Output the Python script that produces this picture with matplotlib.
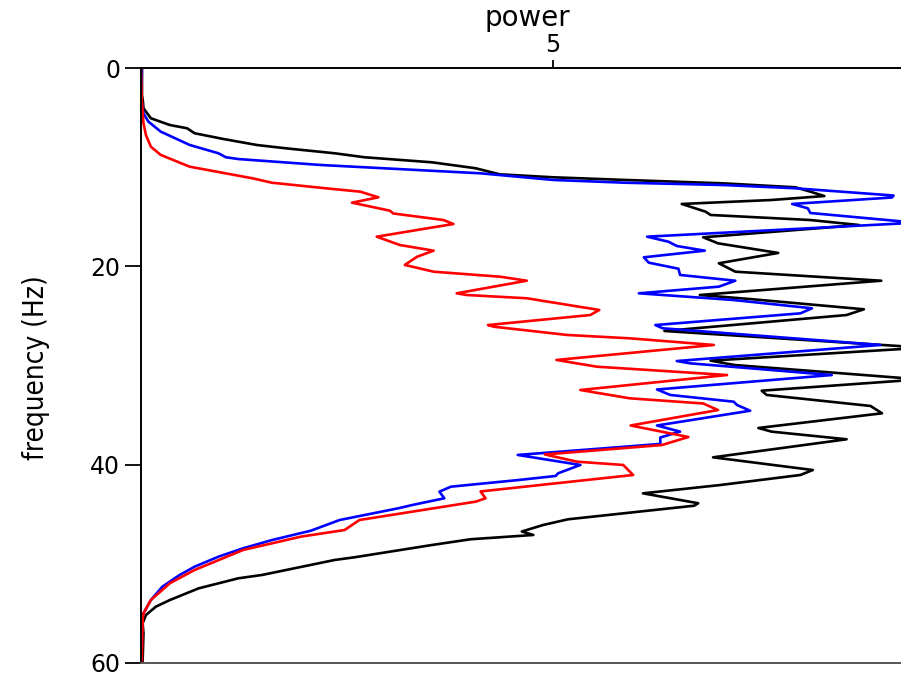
import matplotlib
matplotlib.use("Agg")
import matplotlib.pyplot as plt

# ---- data (frequency in Hz, power) ----
black_freq = [0, 2.72, 3.43, 4.06, 5.07, 5.75, 6.08, 6.58, 7.16, 7.77, 8.10, 8.60, 9.00, 9.51,
              10.11, 10.72, 11.02, 11.29, 11.63, 12.03, 12.47, 12.91, 13.31, 13.71, 14.49, 14.82,
              15.33, 15.83, 16.34, 17.07, 17.68, 18.65, 19.69, 20.54, 21.45, 22.89, 23.32, 24.33,
              24.91, 26.52, 28.2, 29.51, 29.95, 31.4, 32.54, 32.97, 34.08, 34.82, 36.30, 36.67,
              37.44, 39.26, 40.54, 41.04, 42.05, 42.89, 43.89, 44.14, 45.51, 46.08, 46.74, 47.09,
              47.52, 48.10, 49.34, 49.61, 51.12, 51.46, 52.47, 53.65, 54.32, 55.16, 56.0, 57.0,
              59.7, 60]
black_power = [0.012, 0.012, 0.024, 0.03, 0.12, 0.35, 0.56, 0.65, 1.00, 1.41, 1.76, 2.35, 2.71, 3.53,
               4.06, 4.35, 5.00, 5.88, 7.06, 7.94, 8.12, 8.29, 7.65, 6.56, 6.85, 6.91,
               8.12, 8.71, 7.94, 6.82, 7.00, 7.73, 7.01, 7.21, 8.98, 6.78, 7.42, 8.77,
               8.56, 6.35, 9.5, 6.91, 7.20, 9.45, 7.53, 7.59, 8.85, 8.99, 7.49, 7.65,
               8.56, 6.94, 8.15, 8.00, 7.03, 6.09, 6.76, 6.71, 5.18, 4.88, 4.62, 4.76,
               4.00, 3.53, 2.59, 2.35, 1.47, 1.18, 0.70, 0.35, 0.18, 0.06, 0.02, 0.03,
               0.02, 0.02]

blue_freq = [0, 3.23, 4.57, 5.41, 6.42, 7.76, 8.60, 9.00, 9.18, 9.78, 10.62, 11.29, 11.57, 11.80,
             12.13, 12.86, 13.06, 13.71, 14.15, 14.62, 15.6, 17.01, 17.52, 17.95, 18.42, 19.09,
             19.63, 20.24, 20.87, 21.45, 22.05, 22.72, 23.39, 24.23, 24.74, 25.92, 26.25, 27.93,
             29.55, 29.78, 30.96, 32.42, 32.97, 33.65, 33.98, 34.56, 36.05, 36.67, 37.26, 37.91,
             39.02, 40.03, 40.87, 41.14, 41.54, 42.22, 42.72, 43.39, 44.07, 44.40, 45.58, 46.66,
             47.60, 48.43, 49.28, 50.29, 51.12, 52.30, 53.65, 54.99, 55.66, 60]
blue_power = [0.01, 0.006, 0.03, 0.09, 0.24, 0.59, 0.94, 1.03, 1.18, 2.18, 4.12, 5.00, 5.88, 7.06,
              7.94, 9.13, 9.11, 7.90, 8.09, 8.12, 9.4, 6.14, 6.40, 6.50, 6.84, 6.10,
              6.16, 6.52, 6.54, 7.21, 7.01, 6.04, 7.18, 8.14, 8.00, 6.24, 6.33, 8.97,
              6.50, 6.66, 8.38, 6.26, 6.42, 7.19, 7.23, 7.39, 6.26, 6.54, 6.30, 6.30,
              4.57, 5.33, 5.06, 5.03, 4.59, 3.76, 3.62, 3.68, 3.29, 3.12, 2.41, 2.06,
              1.59, 1.24, 0.94, 0.65, 0.47, 0.26, 0.12, 0.03, 0.0, 0.01]

red_freq = [0, 3.23, 5.58, 6.76, 7.94, 8.77, 9.95, 11.12, 11.57, 12.13, 12.47, 13.04, 13.58, 14.39,
            14.67, 15.33, 15.73, 17.01, 17.85, 18.42, 19.03, 19.86, 20.54, 21.05, 21.45, 22.72,
            22.89, 23.22, 24.40, 24.91, 25.92, 26.09, 26.92, 27.26, 27.93, 29.44, 30.12, 30.96,
            32.47, 33.31, 33.83, 34.49, 36.05, 37.21, 38.02, 38.97, 39.70, 40.03, 41.04, 42.70,
            43.39, 43.73, 45.58, 46.59, 47.26, 48.60, 50.62, 51.96, 53.65, 54.99, 55.66, 60]
red_power = [0.0, 0.01, 0.03, 0.06, 0.12, 0.24, 0.59, 1.35, 1.59, 2.24, 2.66, 2.88, 2.56, 3.02,
             3.06, 3.67, 3.79, 2.86, 3.14, 3.55, 3.35, 3.20, 3.55, 4.36, 4.68, 3.83,
             3.95, 4.68, 5.56, 5.45, 4.21, 4.28, 5.17, 5.93, 6.95, 5.04, 5.53, 7.11,
             5.33, 5.93, 6.82, 7.00, 5.94, 6.64, 6.32, 4.90, 5.29, 5.85, 5.97, 4.12,
             4.18, 4.06, 2.65, 2.47, 1.94, 1.24, 0.65, 0.35, 0.12, 0.03, 0.02, 0.01]

x_ticks = [5]
y_ticks = [0, 20, 40, 60]

fig = plt.figure(figsize=(9.01, 6.73), dpi=100)
ax = fig.add_axes([141 / 901, 1 - 663 / 673, 1 - 141 / 901, (663 - 68) / 673])

lw = 1.9
for p, f, c in [(black_power, black_freq, "black"),
                (blue_power, blue_freq, "blue"),
                (red_power, red_freq, "red")]:
    ax.plot(p, f, color=c, lw=lw, solid_joinstyle="round", solid_capstyle="round")

ax.set_xlim(0, 9.22)
ax.set_ylim(60, 0)
ax.xaxis.tick_top()
ax.xaxis.set_label_position("top")
ax.set_xticks(x_ticks)
ax.set_yticks(y_ticks)
ax.tick_params(axis="x", direction="out", length=5.5, width=1.3, labelsize=17, pad=2.3)
ax.tick_params(axis="y", direction="out", length=11.5, width=1.3, labelsize=17, pad=3.5)

ax.set_xlabel("power", fontsize=20, family="DejaVu Sans", va="baseline")
ax.xaxis.set_label_coords(0.509, 1 + 42 / 595)
ax.set_ylabel("frequency (Hz)", fontsize=20, family="DejaVu Sans",
              fontstretch="condensed", va="center")
ax.yaxis.set_label_coords(-(141 - 36) / 760, 0.497)

for s in ["left", "top", "bottom"]:
    ax.spines[s].set_linewidth(1.4)
ax.spines["right"].set_visible(False)
ax.spines["bottom"].set_color("#555555")

fig.savefig("out.png", dpi=100)
